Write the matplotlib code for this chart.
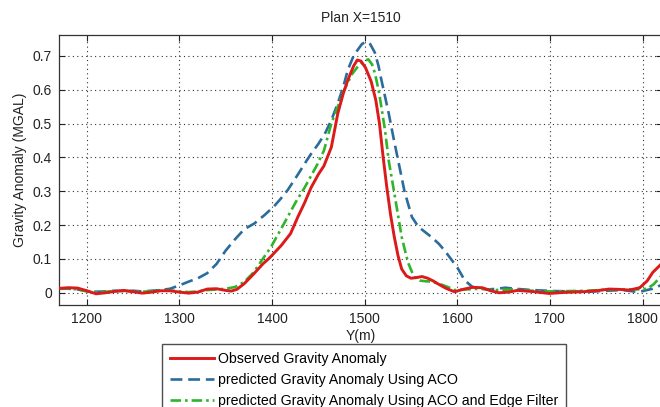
import matplotlib
matplotlib.use("Agg")
import matplotlib.pyplot as plt

plt.rcParams['font.family'] = ['Liberation Sans', 'DejaVu Sans']

title = "Plan X=1510"
xlabel = "Y(m)"
ylabel = "Gravity Anomaly (MGAL)"
labels = ["Observed Gravity Anomaly",
          "predicted Gravity Anomaly Using ACO",
          "predicted Gravity Anomaly Using ACO and Edge Filter"]
xticks = [1200, 1300, 1400, 1500, 1600, 1700, 1800]
yticks = [0, 0.1, 0.2, 0.3, 0.4, 0.5, 0.6, 0.7]

obs_x = [1170, 1180, 1190, 1200, 1210, 1220, 1230, 1240, 1250, 1260, 1270, 1280, 1290, 1300,
         1310, 1320, 1330, 1340, 1350, 1356, 1362, 1370, 1380, 1390, 1398, 1410, 1420, 1428,
         1435, 1442, 1450, 1456, 1464, 1471, 1477, 1482, 1488, 1492, 1496, 1501, 1507, 1512,
         1516, 1520, 1524, 1528, 1532, 1536, 1540, 1545, 1550, 1556, 1562, 1568, 1574, 1580,
         1588, 1597, 1606, 1616, 1627, 1636, 1645, 1655, 1665, 1680, 1699, 1715, 1735, 1750,
         1764, 1775, 1786, 1797, 1805, 1811, 1822]
obs_y = [0.013, 0.015, 0.014, 0.006, -0.003, 0.0, 0.004, 0.007, 0.003, -0.001, 0.002, 0.006,
         0.006, 0.002, -0.001, 0.002, 0.011, 0.012, 0.007, 0.005, 0.010, 0.027, 0.055, 0.085,
         0.105, 0.140, 0.175, 0.225, 0.265, 0.310, 0.350, 0.375, 0.430, 0.530, 0.590, 0.630,
         0.670, 0.688, 0.685, 0.665, 0.625, 0.570, 0.500, 0.400, 0.310, 0.230, 0.165, 0.110,
         0.070, 0.050, 0.043, 0.045, 0.048, 0.043, 0.035, 0.025, 0.013, 0.003, 0.010, 0.016,
         0.015, 0.006, 0.0, 0.002, 0.007, 0.004, -0.002, 0.001, 0.003, 0.006, 0.011, 0.010,
         0.008, 0.015, 0.035, 0.060, 0.090]

aco_x = [1170, 1180, 1190, 1200, 1210, 1220, 1230, 1240, 1250, 1260, 1270, 1280, 1290, 1300,
         1310, 1320, 1330, 1340, 1350, 1360, 1370, 1381, 1392, 1402, 1410, 1417, 1428, 1436,
         1442, 1450, 1457, 1464, 1471, 1477, 1482, 1488, 1493, 1497, 1501, 1506, 1511, 1515,
         1518, 1522, 1526, 1531, 1537, 1543, 1551, 1558, 1565, 1572, 1580, 1586, 1594, 1600,
         1608, 1616, 1625, 1634, 1643, 1652, 1662, 1681, 1706, 1725, 1742, 1760, 1779, 1793,
         1800, 1811, 1822]
aco_y = [0.012, 0.012, 0.010, 0.005, 0.003, 0.004, 0.006, 0.005, 0.006, 0.004, 0.006, 0.008,
         0.012, 0.022, 0.033, 0.043, 0.058, 0.085, 0.125, 0.158, 0.188, 0.205, 0.230, 0.255,
         0.280, 0.304, 0.350, 0.385, 0.410, 0.440, 0.470, 0.510, 0.560, 0.610, 0.660, 0.700,
         0.720, 0.735, 0.742, 0.735, 0.710, 0.670, 0.630, 0.580, 0.530, 0.460, 0.380, 0.300,
         0.224, 0.195, 0.180, 0.165, 0.145, 0.126, 0.097, 0.075, 0.037, 0.018, 0.012, 0.010,
         0.012, 0.015, 0.012, 0.008, 0.005, 0.004, 0.003, 0.006, 0.008, 0.003, 0.005, 0.012,
         0.025]

edge_x = [1170, 1180, 1190, 1200, 1210, 1220, 1230, 1240, 1250, 1260, 1270, 1280, 1290, 1300,
          1310, 1320, 1330, 1340, 1350, 1360, 1370, 1380, 1390, 1399, 1408, 1417, 1426, 1435,
          1442, 1449, 1456, 1464, 1471, 1478, 1486, 1493, 1499, 1504, 1508, 1511, 1515, 1518,
          1522, 1526, 1532, 1536, 1540, 1544, 1547, 1551, 1554, 1560, 1566, 1572, 1580, 1590,
          1597, 1610, 1625, 1640, 1660, 1680, 1700, 1720, 1740, 1760, 1780, 1795, 1805, 1812,
          1822]
edge_y = [0.012, 0.013, 0.010, 0.004, 0.002, 0.003, 0.005, 0.006, 0.004, 0.003, 0.005, 0.008,
          0.007, 0.004, 0.002, 0.004, 0.008, 0.010, 0.012, 0.017, 0.032, 0.060, 0.100, 0.136,
          0.180, 0.225, 0.270, 0.310, 0.345, 0.380, 0.420, 0.500, 0.550, 0.600, 0.645, 0.670,
          0.685, 0.690, 0.675, 0.650, 0.600, 0.550, 0.480, 0.390, 0.295, 0.230, 0.165, 0.120,
          0.088, 0.062, 0.047, 0.036, 0.034, 0.033, 0.027, 0.017, 0.008, 0.010, 0.012, 0.008,
          0.010, 0.006, 0.004, 0.005, 0.006, 0.009, 0.010, 0.010, 0.012, 0.025, 0.055]

fig = plt.figure(figsize=(6.6, 4.07), dpi=100)
ax = fig.add_axes([59/660, 101.7/407, 1.003 - 59/660, 270.3/407])

l1, = ax.plot(obs_x, obs_y, color='#dd1a1a', lw=2.1, zorder=3)
l2, = ax.plot(aco_x, aco_y, color='#2b6c9c', lw=1.9, dashes=(4.5, 2.2), zorder=2)
l3, = ax.plot(edge_x, edge_y, color='#2fb52a', lw=1.9, dashes=(4.0, 1.5, 1.0, 1.5), zorder=2.5)

ax.set_xlim(1170, 1821)
ax.set_ylim(-0.037, 0.762)
ax.set_xticks(xticks)
ax.set_yticks(yticks)
ax.set_yticklabels(['0', '0.1', '0.2', '0.3', '0.4', '0.5', '0.6', '0.7'])
ax.tick_params(direction='in', top=True, right=True, length=4, width=0.8,
               labelsize=10, colors='#222222', pad=5)
ax.grid(True, linestyle=(0, (1, 3)), color='#333333', linewidth=0.8)
for s in ax.spines.values():
    s.set_color('#333333')
    s.set_linewidth(0.9)

ax.set_title(title, fontsize=10, color='#222222', pad=9)
ax.set_xlabel(xlabel, fontsize=10, color='#222222', labelpad=2)
ax.set_ylabel(ylabel, fontsize=10, color='#222222', labelpad=4)

leg = fig.legend([l1, l2, l3], labels, loc='upper left',
                 bbox_to_anchor=(162/660, 1 - 344/407), fontsize=10.2,
                 frameon=True, fancybox=False, edgecolor='#222222',
                 handlelength=3.1, handletextpad=0.3, borderpad=0.55,
                 labelspacing=0.5, borderaxespad=0)
leg.get_frame().set_linewidth(1.0)

fig.savefig("out.png", dpi=100)
